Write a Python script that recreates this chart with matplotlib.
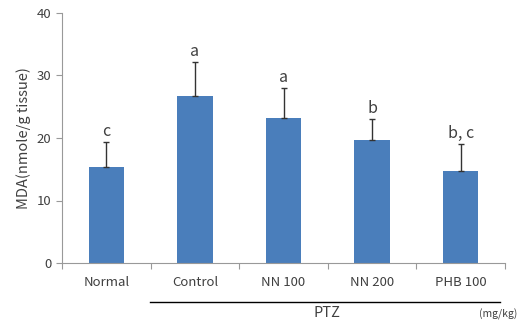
import matplotlib
matplotlib.use("Agg")
import matplotlib.pyplot as plt
import numpy as np

categories = ["Normal", "Control", "NN 100", "NN 200", "PHB 100"]
means = [15.4, 26.7, 23.2, 19.7, 14.7]
errors = [4.0, 5.5, 4.8, 3.3, 4.3]
letters = ["c", "a", "a", "b", "b, c"]
yticks = [0, 10, 20, 30, 40]

plt.rcParams['font.family'] = ['Noto Sans CJK KR', 'DejaVu Sans']
gray = "#404040"

fig = plt.figure(figsize=(5.18, 3.23), dpi=100)
ax = fig.add_axes([62/518, 1-263/323, (505-62)/518, 250/323])

x = np.arange(len(categories))
ax.bar(x, means, width=0.4, color="#4a7ebb", zorder=2)
ax.errorbar(x, means, yerr=[np.zeros(len(errors)), errors], fmt="none",
            ecolor="#333333", elinewidth=1.0, capsize=2.5, capthick=1.0, zorder=3)
for xi, m, e, l in zip(x, means, errors, letters):
    ax.text(xi, m + e + 0.3, l, ha="center", va="bottom", fontsize=11.5, color=gray)

ax.set_xlim(-0.5, len(categories) - 0.5)
ax.set_ylim(0, 40)
ax.set_yticks(yticks)
ax.set_xticks(np.arange(len(categories) + 1) - 0.5)
ax.set_xticklabels([])
ax.set_xticks(x, minor=True)
ax.set_xticklabels(categories, minor=True)
ax.tick_params(axis="x", which="minor", length=0, pad=9, labelsize=9.5, labelcolor=gray)
ax.tick_params(axis="x", which="major", length=4, color="#999999")
ax.tick_params(axis="y", length=4, color="#999999", labelsize=9.5, labelcolor=gray)
for s in ["top", "right"]:
    ax.spines[s].set_visible(False)
for s in ["left", "bottom"]:
    ax.spines[s].set_color("#999999")
    ax.spines[s].set_linewidth(0.8)
ax.set_ylabel("MDA(nmole/g tissue)", fontsize=10.5, color=gray, labelpad=4)

fig.add_artist(plt.Line2D([150/518, 500/518], [1-302/323, 1-302/323], color="black", lw=1.0))
fig.text(327/518, 1-313/323, "PTZ", ha="center", va="center", fontsize=10.5, color=gray)
fig.text(517/518, 1-314/323, "(mg/kg)", ha="right", va="center", fontsize=7.5, color=gray)

fig.savefig("out.png", dpi=100)
